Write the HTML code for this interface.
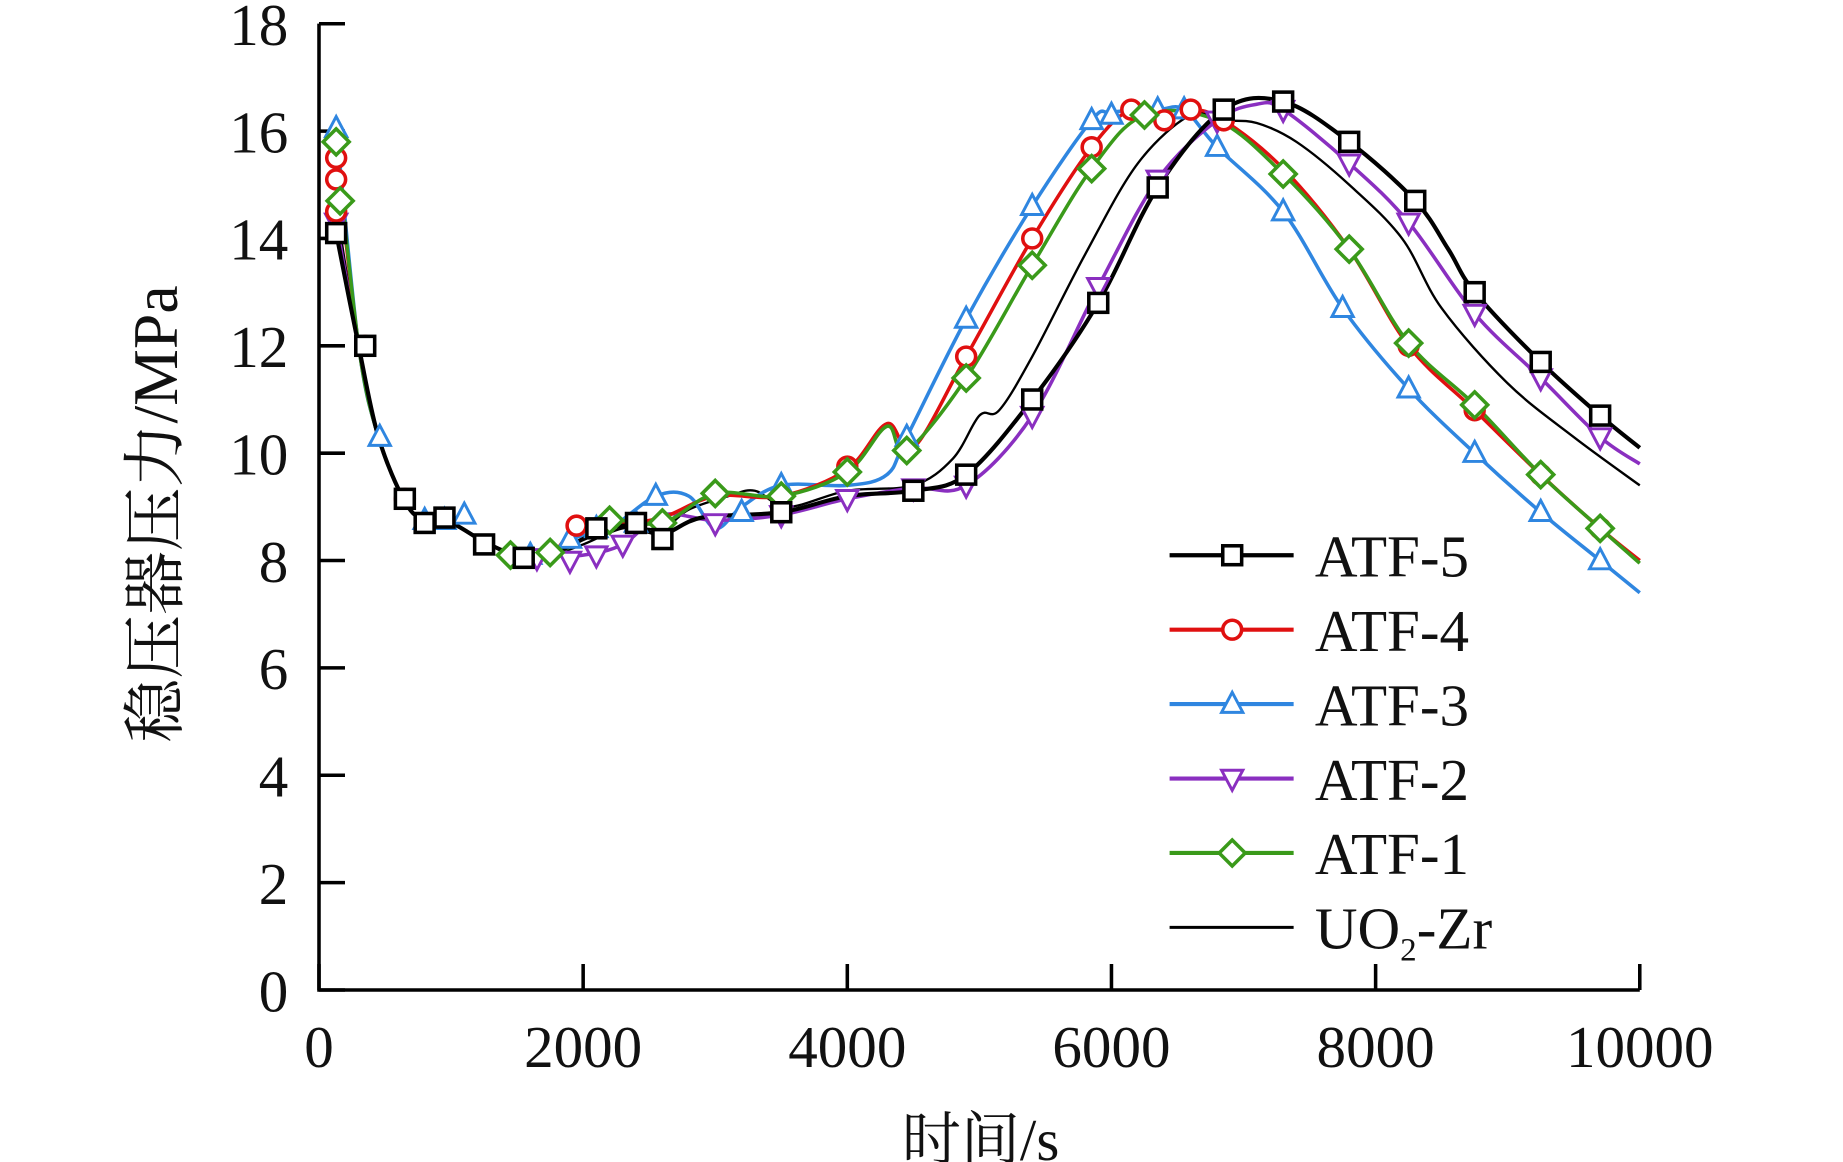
<!DOCTYPE html>
<html><head><meta charset="utf-8"><style>body{margin:0;background:#fff}svg{display:block}</style></head>
<body>
<svg id="s" width="1843" height="1162" viewBox="0 0 1560 983.6" xmlns="http://www.w3.org/2000/svg" font-family="'Liberation Serif','Noto Serif CJK SC',serif">
<g id="axes" stroke="#000" stroke-width="3" fill="none">
<path d="M270,20 V838 H1388"/>
</g>
<g id="ticks" stroke="#000" stroke-width="3"></g>
<g id="tl" font-size="50" fill="#111"></g>
<g id="plot"></g>
<text x="150" y="435" font-size="54" transform="rotate(-90 150 435)" text-anchor="middle" fill="#111">稳压器压力/MPa</text>
<text x="830" y="982" font-size="50" text-anchor="middle" fill="#111">时间/s</text>
<g id="leg" font-size="50" fill="#111"></g>
</svg>
<script>
const NS="http://www.w3.org/2000/svg";
const X=t=>270+t*0.1118, Y=p=>838-p*45.44;
function el(tag,a,parent,txt){const e=document.createElementNS(NS,tag);for(const k in a)e.setAttribute(k,a[k]);if(txt!=null)e.textContent=txt;document.getElementById(parent).appendChild(e);return e;}
for(let i=0;i<=9;i++){const y=Y(i*2);el('line',{x1:270,x2:292,y1:y,y2:y},'ticks');el('text',{x:244,y:y+18,'text-anchor':'end',textLength:i>=5?50:25,lengthAdjust:'spacingAndGlyphs'},'tl',String(i*2));}
for(let i=0;i<=5;i++){const x=X(i*2000);el('line',{x1:x,x2:x,y1:838,y2:816},'ticks');el('text',{x:x,y:903,'text-anchor':'middle'},'tl',String(i*2000));}
function path(pts){const P=pts.map(([t,p])=>[X(t),Y(p)]);let d=`M${P[0][0]},${P[0][1]}`;
for(let i=0;i<P.length-1;i++){const p0=P[i-1]||P[i],p1=P[i],p2=P[i+1],p3=P[i+2]||p2;
d+=` C${p1[0]+(p2[0]-p0[0])/6},${p1[1]+(p2[1]-p0[1])/6} ${p2[0]-(p3[0]-p1[0])/6},${p2[1]-(p3[1]-p1[1])/6} ${p2[0]},${p2[1]}`;}return d;}
function marker(type,x,y,c,g){const s=8;
if(type=='sq')el('rect',{x:x-s,y:y-s,width:2*s,height:2*s,fill:'#fff',stroke:c,'stroke-width':3},g);
if(type=='ci')el('circle',{cx:x,cy:y,r:s,fill:'#fff',stroke:c,'stroke-width':3},g);
if(type=='tu')el('path',{d:`M${x},${y-10} L${x+9},${y+7} L${x-9},${y+7}Z`,fill:'#fff',stroke:c,'stroke-width':2.5},g);
if(type=='td')el('path',{d:`M${x},${y+10} L${x+9},${y-7} L${x-9},${y-7}Z`,fill:'#fff',stroke:c,'stroke-width':2.5},g);
if(type=='di')el('path',{d:`M${x},${y-11} L${x+11},${y} L${x},${y+11} L${x-11},${y}Z`,fill:'#fff',stroke:c,'stroke-width':3},g);}
const early=[[300,12],[450,10.3],[650,9.1],[800,8.75],[1000,8.7],[1250,8.35],[1500,8.1],[1750,8.1]];
const S=[
{c:'#000',w:2,m:null,pts:[[130,14.6],...early,[2000,8.3],[2300,8.6],[2600,8.6],[2800,8.95],[3100,9.2],[3300,9.3],[3550,9.0],[4000,9.3],[4500,9.4],[4800,9.9],[5000,10.7],[5150,10.8],[5400,11.8],[5800,13.7],[6200,15.4],[6600,16.3],[6850,16.2],[7100,16.15],[7400,15.8],[7800,15],[8200,14],[8500,12.7],[9000,11.3],[9500,10.3],[10000,9.4]]},
{c:'#000',w:3.5,m:'sq',mk:[[130,14.1],[350,12],[650,9.15],[800,8.7],[950,8.8],[1250,8.3],[1550,8.05],[2100,8.6],[2400,8.7],[2600,8.4],[3500,8.9],[4500,9.3],[4900,9.6],[5400,11],[5900,12.8],[6350,14.95],[6850,16.4],[7300,16.55],[7800,15.8],[8300,14.7],[8750,13],[9250,11.7],[9700,10.7]],pts:[[130,14.1],...early,[2000,8.4],[2300,8.65],[2600,8.5],[2900,8.8],[3500,8.9],[4000,9.2],[4500,9.3],[4900,9.6],[5400,11],[5900,12.8],[6350,14.95],[6850,16.4],[7300,16.55],[7800,15.8],[8300,14.7],[8550,13.8],[8750,13],[9250,11.7],[9700,10.7],[10000,10.1]]},
{c:'#8a2fc0',w:3,m:'td',mk:[[130,14.3],[1650,8.05],[1900,8.0],[2100,8.1],[2300,8.3],[3000,8.7],[3500,8.85],[4000,9.15],[4500,9.35],[4900,9.4],[5400,10.7],[5900,13.1],[6350,15.1],[6800,16.2],[7300,16.4],[7800,15.4],[8250,14.3],[8750,12.6],[9250,11.4],[9700,10.3]],pts:[[130,14.3],...early,[2000,8.1],[2300,8.3],[2600,8.85],[3000,8.75],[3500,8.85],[4000,9.15],[4500,9.35],[4900,9.4],[5400,10.7],[5900,13.1],[6350,15.1],[6800,16.2],[7100,16.5],[7300,16.4],[7800,15.4],[8250,14.3],[8750,12.6],[9250,11.4],[9700,10.3],[10000,9.8]]},
{c:'#2f86e0',w:3,m:'tu',mk:[[130,16.05],[460,10.3],[800,8.75],[950,8.75],[1100,8.85],[1600,8.1],[1900,8.4],[2100,8.6],[2400,8.7],[2550,9.2],[3200,8.9],[3500,9.4],[4450,10.3],[4900,12.5],[5400,14.6],[5850,16.2],[6000,16.3],[6350,16.4],[6550,16.4],[6800,15.7],[7300,14.5],[7750,12.7],[8250,11.2],[8750,10.0],[9250,8.9],[9700,8.0]],pts:[[130,16.1],[300,12],...early.slice(1),[1900,8.4],[2200,8.6],[2550,9.2],[2800,9.2],[3000,8.6],[3200,9.0],[3500,9.4],[4000,9.4],[4300,9.6],[4450,10.3],[4900,12.5],[5400,14.6],[5850,16.2],[6000,16.35],[6350,16.4],[6550,16.4],[6800,15.7],[7300,14.5],[7750,12.7],[8250,11.2],[8750,10.0],[9250,8.9],[9700,8.0],[10000,7.4]]},
{c:'#e01010',w:3,m:'ci',mk:[[130,15.5],[130,15.1],[130,14.5],[350,12],[650,9.15],[1950,8.65],[4000,9.75],[4900,11.8],[5400,14],[5850,15.7],[6150,16.4],[6400,16.2],[6600,16.4],[6850,16.2],[8250,12],[8750,10.8],[9250,9.6],[9700,8.6]],pts:[[130,15.6],...early,[1950,8.6],[2300,8.7],[2600,8.8],[3000,9.2],[3500,9.2],[4000,9.7],[4300,10.55],[4500,10.1],[4900,11.8],[5400,14],[5850,15.7],[6150,16.4],[6400,16.2],[6600,16.4],[6850,16.2],[7300,15.3],[7800,13.8],[8250,12],[8750,10.8],[9250,9.6],[9700,8.6],[10000,8.0]]},
{c:'#3a9a1a',w:3,m:'di',mk:[[130,15.8],[160,14.7],[1450,8.1],[1750,8.15],[2200,8.75],[2600,8.7],[3000,9.25],[3500,9.2],[4000,9.65],[4450,10.05],[4900,11.4],[5400,13.5],[5850,15.3],[6250,16.3],[7300,15.2],[7800,13.8],[8250,12.05],[8750,10.9],[9250,9.6],[9700,8.6]],pts:[[130,15.8],...early,[2000,8.4],[2200,8.75],[2600,8.7],[3000,9.25],[3500,9.2],[4000,9.65],[4300,10.5],[4450,10.05],[4900,11.4],[5400,13.5],[5850,15.3],[6250,16.3],[6800,16.2],[7300,15.2],[7800,13.8],[8250,12.05],[8750,10.9],[9250,9.6],[9700,8.6],[10000,7.95]]}
];
const order=[0,3,2,4,5,1];
for(const i of order){const s=S[i];el('path',{d:path(s.pts),fill:'none',stroke:s.c,'stroke-width':s.w},'plot');}
for(const i of order){const s=S[i];if(s.m)for(const [t,p] of s.mk)marker(s.m,X(t),Y(p),s.c,'plot');}
const L=[['ATF-5',1],['ATF-4',4],['ATF-3',3],['ATF-2',2],['ATF-1',5]];
L.forEach(([n,i],k)=>{const y=470+k*63,s=S[i];el('line',{x1:990,x2:1095,y1:y,y2:y,stroke:s.c,'stroke-width':3.5},'leg');marker(s.m,1043,y,s.c,'leg');el('text',{x:1113,y:y+18},'leg',n);});
el('line',{x1:990,x2:1095,y1:785,y2:785,stroke:'#000','stroke-width':2.5},'leg');
const t=el('text',{x:1113,y:803},'leg','UO');const ts=document.createElementNS(NS,'tspan');ts.setAttribute('font-size','28');ts.setAttribute('dy','10');ts.textContent='2';t.appendChild(ts);const ts2=document.createElementNS(NS,'tspan');ts2.setAttribute('dy','-10');ts2.textContent='-Zr';t.appendChild(ts2);
</script>
</body></html>
